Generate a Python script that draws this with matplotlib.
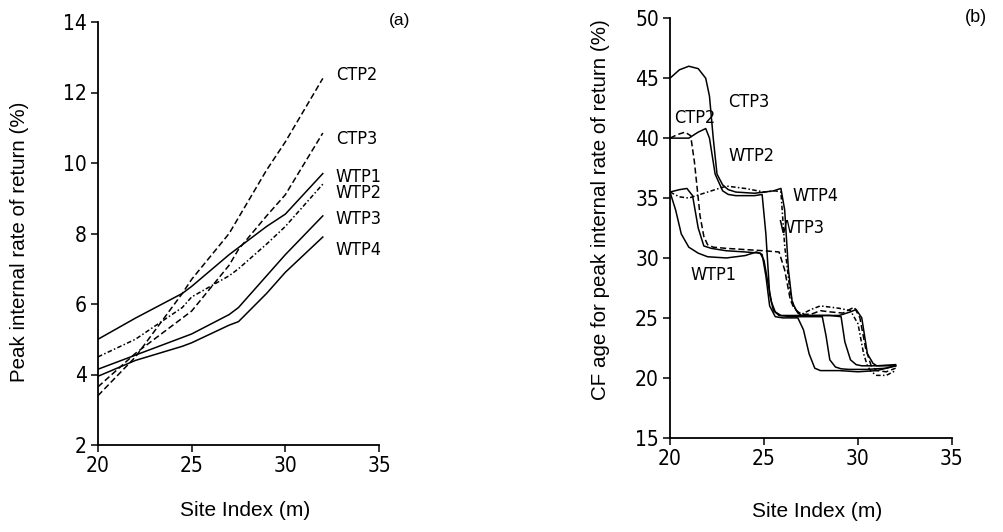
import matplotlib
matplotlib.use('Agg')
import matplotlib.pyplot as plt
from matplotlib import font_manager

plt.rcParams['font.family'] = ['Liberation Sans', 'DejaVu Sans']

# pick a condensed face for tick labels if one is installed
cond = None
for f in font_manager.fontManager.ttflist:
    if f.style != 'normal' or f.weight not in (400, 'normal', 'regular'):
        continue
    if 'Narrow' in f.name or 'Condensed' in f.name or f.stretch in ('condensed', 'semi-condensed'):
        cond = f.fname
        break
tick_fp = font_manager.FontProperties(fname=cond, size=15) if cond else font_manager.FontProperties(family='Liberation Sans', size=14)
lab_fp = font_manager.FontProperties(fname=cond, size=13) if cond else font_manager.FontProperties(family='Liberation Sans', size=12)

# ---- panel (a): peak IRR vs site index ----
si_a = [20, 22, 24.5, 25, 27, 27.5, 29, 30, 32]
irr = {
    'WTP1': [5.0, 5.6, 6.3, 6.5, 7.4, 7.6, 8.2, 8.55, 9.7],
    'WTP2': [4.5, 5.0, 5.9, 6.2, 6.8, 7.0, 7.7, 8.2, 9.4],
    'WTP3': [4.15, 4.55, 5.05, 5.15, 5.7, 5.9, 6.8, 7.4, 8.5],
    'WTP4': [3.95, 4.4, 4.8, 4.9, 5.4, 5.5, 6.3, 6.9, 7.9],
    'CTP2': [3.4, 4.5, 6.3, 6.7, 8.0, 8.45, 9.8, 10.6, 12.4],
    'CTP3': [3.65, 4.6, 5.6, 5.8, 7.1, 7.55, 8.5, 9.1, 10.85],
}
lab_a = {'CTP2': 12.5, 'CTP3': 10.67, 'WTP1': 9.61, 'WTP2': 9.14, 'WTP3': 8.40, 'WTP4': 7.53}

# ---- panel (b): CF age for peak IRR vs site index ----
age = {
    'CTP3': ([20, 20.5, 21, 21.5, 21.9, 22.1, 22.3, 22.5, 22.8, 23.1, 23.5, 24.5, 25.5, 25.9, 26.1, 26.3,
              26.5, 26.8, 27, 28, 29, 29.6, 29.9, 30.2, 30.5, 30.8, 31, 32],
             [45, 45.7, 46, 45.8, 45, 43.5, 40, 37, 36.1, 35.7, 35.5, 35.4, 35.6, 35.8, 34, 29,
              26.3, 25.4, 25.2, 25.2, 25.2, 25.5, 25.7, 25, 22, 21.2, 21, 21.1]),
    'WTP2': ([20, 21, 21.5, 21.9, 22.1, 22.4, 22.8, 23.1, 23.5, 24.5, 24.9, 25.1, 25.3, 25.5, 25.8, 26.5,
              27.5, 28.1, 28.3, 28.5, 28.8, 29.1, 29.5, 30.5, 31.5, 32],
             [40, 40, 40.5, 40.8, 40, 37, 35.6, 35.3, 35.2, 35.2, 35.3, 32, 27, 25.6, 25.2, 25.1,
              25.1, 25.1, 23.5, 21.5, 20.9, 20.75, 20.7, 20.7, 20.8, 21]),
    'WTP3': ([20, 20.5, 21, 22, 23, 24, 25, 25.6, 25.9, 26.1, 26.4, 26.6, 26.8, 27, 27.5, 28, 29, 29.6,
              30.0, 30.3, 30.5, 30.7, 31, 31.5, 32],
             [35.5, 35.1, 35, 35.5, 36, 35.8, 35.5, 35.6, 35.5, 31, 27, 25.9, 25.5, 25.3, 25.7, 26, 25.8, 25.6,
              24.5, 22, 21, 20.5, 20.2, 20.2, 20.6]),
    'CTP2': ([20, 20.4, 20.8, 21.1, 21.3, 21.6, 21.8, 22, 22.3, 23, 24, 25, 25.8, 26.1, 26.4, 26.6, 26.8,
              27, 27.5, 28, 28.5, 29.2, 29.8, 30.1, 30.4, 30.7, 31, 31.5, 32],
             [40, 40.3, 40.5, 40.2, 38, 33.5, 31.8, 31.1, 30.9, 30.8, 30.7, 30.6, 30.5, 29, 26.5, 25.8, 25.5,
              25.3, 25.3, 25.6, 25.5, 25.4, 25.9, 25, 22.5, 21, 20.6, 20.5, 20.8]),
    'WTP4': ([20, 20.5, 20.9, 21.2, 21.5, 21.8, 22.2, 23, 24, 24.8, 25.0, 25.2, 25.4, 25.6, 25.9, 26.5,
              27.5, 28.5, 29.1, 29.3, 29.6, 29.9, 30.2, 31, 32],
             [35.5, 35.7, 35.8, 35.2, 32.5, 31, 30.8, 30.6, 30.5, 30.4, 29.8, 28, 26.3, 25.5, 25.2, 25.2,
              25.2, 25.2, 25.1, 23, 21.5, 21.1, 21, 21, 21]),
    'WTP1': ([20, 20.3, 20.6, 21, 21.5, 22, 23, 24, 24.6, 24.9, 25.1, 25.3, 25.6, 26, 26.8, 27.1, 27.4,
              27.7, 28, 29, 30, 31, 32],
             [35.5, 34, 32, 30.9, 30.4, 30.1, 30, 30.2, 30.5, 30.3, 28.5, 26, 25.1, 25, 25, 24, 22,
              20.8, 20.6, 20.6, 20.5, 20.6, 21]),
}
lab_b = {'CTP3': (23.1, 43.0), 'CTP2': (20.2, 41.65), 'WTP2': (23.1, 38.5),
         'WTP4': (26.53, 35.17), 'WTP3': (25.77, 32.47), 'WTP1': (21.1, 28.57)}

dashdot = (0, (3, 1.5, 1, 1.5))
dashed = (0, (4, 2))
styles_a = {'WTP1': '-', 'WTP3': '-', 'WTP4': '-', 'WTP2': dashdot, 'CTP2': dashed, 'CTP3': dashed}
styles_b = {'CTP3': '-', 'WTP2': '-', 'WTP4': '-', 'WTP1': '-', 'WTP3': dashdot, 'CTP2': dashed}

fig = plt.figure(figsize=(10.04, 5.32), dpi=100)
ax1 = fig.add_axes([98 / 1004, 1 - 445 / 532, 281 / 1004, 423 / 532])
ax2 = fig.add_axes([670 / 1004, 1 - 437.7 / 532, 282 / 1004, 419.4 / 532])

for k, v in irr.items():
    ax1.plot(si_a, v, color='black', lw=1.1, ls=styles_a[k])
    ax1.text(32.7, lab_a[k], k, fontproperties=lab_fp, va='center', ha='left')

for k, (x, y) in age.items():
    ax2.plot(x, y, color='black', lw=1.1, ls=styles_b[k])
    ax2.text(lab_b[k][0], lab_b[k][1], k, fontproperties=lab_fp, va='center', ha='left')

ax1.set_xlim(20, 35)
ax1.set_ylim(2, 14)
ax1.set_xticks([20, 25, 30, 35])
ax1.set_yticks([2, 4, 6, 8, 10, 12, 14])
ax2.set_xlim(20, 35)
ax2.set_ylim(15, 50)
ax2.set_xticks([20, 25, 30, 35])
ax2.set_yticks([15, 20, 25, 30, 35, 40, 45, 50])

for ax in (ax1, ax2):
    for s in ('top', 'right'):
        ax.spines[s].set_visible(False)
    for s in ('left', 'bottom'):
        ax.spines[s].set_linewidth(1.3)
    ax.tick_params(direction='out', length=5, width=1.1, pad=3)
    for t in ax.get_xticklabels() + ax.get_yticklabels():
        t.set_fontproperties(tick_fp)

ax1.set_xlabel('Site Index (m)', fontsize=15, va='center')
ax1.xaxis.set_label_coords(0.523, -0.154)
ax1.set_ylabel('Peak internal rate of return (%)', fontsize=14.8, va='center')
ax1.yaxis.set_label_coords(-0.278, 0.48)

ax2.set_xlabel('Site Index (m)', fontsize=15, va='center')
ax2.xaxis.set_label_coords(0.52, -0.177)
ax2.set_ylabel('CF age for peak internal rate of return (%)', fontsize=14.8, va='center')
ax2.yaxis.set_label_coords(-0.245, 0.543)

fig.text(400 / 1004, 1 - 20 / 532, '(a)', fontsize=12.5, ha='center', va='center')
fig.text(976 / 1004, 1 - 17 / 532, '(b)', fontsize=13, ha='center', va='center')

fig.savefig('out.png', dpi=100)
